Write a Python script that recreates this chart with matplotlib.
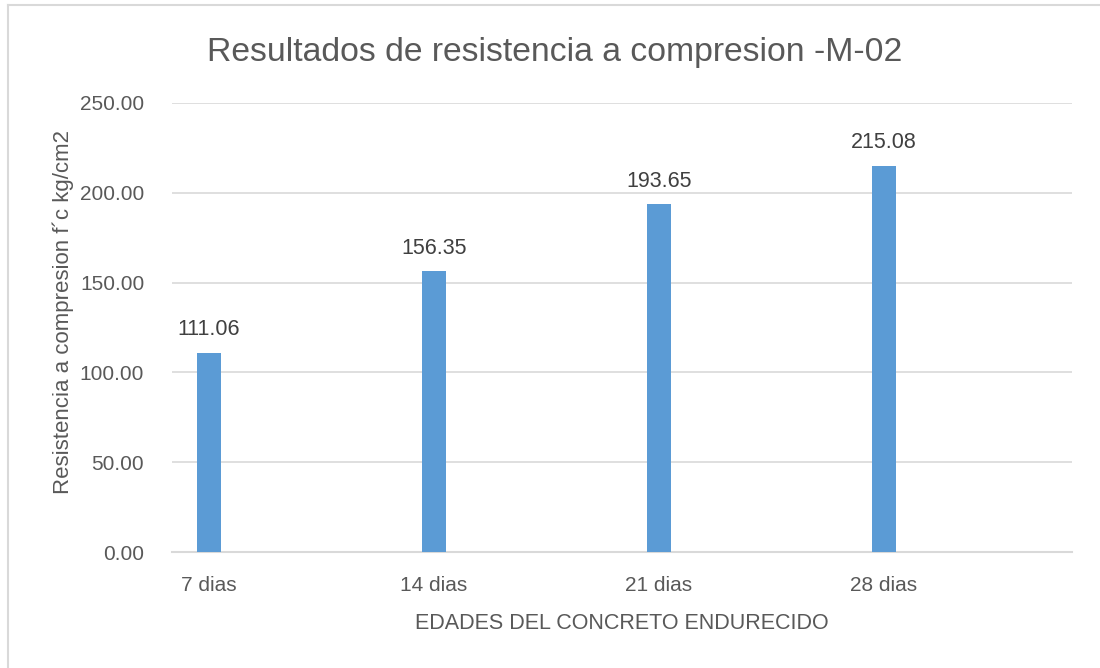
import matplotlib.pyplot as plt
from matplotlib.lines import Line2D

# Data
categories = ['7 dias', '14 dias', '21 dias', '28 dias']
values = [111.06, 156.35, 193.65, 215.08]
yticks = [0, 50, 100, 150, 200, 250]

plt.rcParams['font.family'] = ['Liberation Sans', 'DejaVu Sans']
text_color = '#595959'
grid_color = '#d9d9d9'
bar_color = '#5b9bd5'

fig = plt.figure(figsize=(11, 6.68), dpi=100)
ax = fig.add_axes([172 / 1100, 116 / 668, 900 / 1100, 449 / 668])

x = range(len(categories))
ax.bar(x, values, width=0.107, color=bar_color, zorder=3)

for xi, v in zip(x, values):
    ax.annotate(f'{v:.2f}', (xi, v), xytext=(0, 9), textcoords='offset points',
                ha='center', va='bottom', fontsize=15.5, color='#404040')

ax.set_xlim(-0.164, 3.836)
ax.set_ylim(0, 250)
ax.set_yticks(yticks)
ax.set_yticklabels([f'{t:.2f}' for t in yticks])
ax.set_xticks(list(x))
ax.set_xticklabels(categories)
ax.tick_params(axis='both', length=0, labelsize=15, colors=text_color)
ax.tick_params(axis='x', pad=17)
ax.tick_params(axis='y', pad=20)

ax.yaxis.grid(True, color=grid_color, linewidth=1.2, zorder=0)
for s in ['top', 'right', 'left']:
    ax.spines[s].set_visible(False)
ax.spines['bottom'].set_color(grid_color)
ax.spines['bottom'].set_linewidth(1.5)

fig.text(555 / 1100, 1 - 52 / 668, 'Resultados de resistencia a compresion -M-02',
         fontsize=24.3, color=text_color, ha='center', va='center')
ax.set_xlabel('EDADES DEL CONCRETO ENDURECIDO', fontsize=15.5, color=text_color,
              labelpad=13)
ax.set_ylabel('Resistencia a compresion f´c kg/cm2', fontsize=16,
              color=text_color, labelpad=4)
ax.yaxis.label.set_y(0.534)

# chart border (only left and top visible in the image)
fig.add_artist(Line2D([8 / 1100, 8 / 1100], [0, 1 - 5 / 668],
                      transform=fig.transFigure, color='#d9d9d9', lw=1.5))
fig.add_artist(Line2D([8 / 1100, 1], [1 - 5 / 668, 1 - 5 / 668],
                      transform=fig.transFigure, color='#d9d9d9', lw=1.5))

fig.savefig('out.png', dpi=100)
